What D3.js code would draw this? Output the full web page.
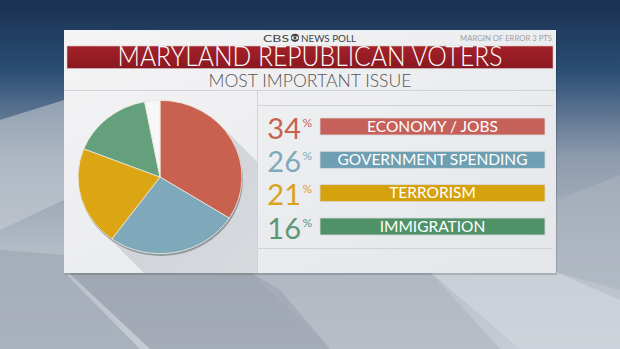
<!DOCTYPE html>
<html><head><meta charset="utf-8">
<script src="https://cdn.jsdelivr.net/npm/d3@7"></script>
<style>html,body{margin:0;padding:0;background:#8a97a8;overflow:hidden}svg{display:block}</style>
</head><body><svg id="c" width="620" height="349"></svg>
<script>
const categories = ["ECONOMY / JOBS", "GOVERNMENT SPENDING", "TERRORISM", "IMMIGRATION"];
const values = [34, 26, 21, 16];
const pieColors = ["#c9614f", "#7ea9ba", "#dca513", "#63a07b"];
const numColors = ["#c9614f", "#7ea9ba", "#d9a21c", "#5e9776"];
const barColors = ["#c5615a", "#6e9fb2", "#d5a10c", "#4f9268"];
const otherValue = 100 - d3.sum(values);
const title = "MARYLAND REPUBLICAN VOTERS";
const subtitle = "MOST IMPORTANT ISSUE";

const svg = d3.select("#c");
const W = 620, H = 349;
const FONT = "Lato, 'Open Sans', sans-serif";
const defs = svg.append("defs");

// background
const bg = defs.append("linearGradient").attr("id","bg").attr("x1",0).attr("y1",0).attr("x2",0).attr("y2",1);
bg.append("stop").attr("offset","0").attr("stop-color","#1a3150");
bg.append("stop").attr("offset","0.2").attr("stop-color","#2b4d74");
bg.append("stop").attr("offset","0.45").attr("stop-color","#8d9bad");
bg.append("stop").attr("offset","0.75").attr("stop-color","#b8bfc8");
bg.append("stop").attr("offset","1").attr("stop-color","#c6ccd4");
svg.append("rect").attr("width",W).attr("height",H).attr("fill","url(#bg)");
const shapes = [
  {pts:[[0,120],[64,100],[64,200],[0,230]], c:"#c9ced6", o:0.55},
  {pts:[[0,250],[64,255],[64,272],[140,349],[0,349]], c:"#9ea6b4", o:0.7},
  {pts:[[68,272],[150,349],[330,349],[280,290],[250,272]], c:"#8e96a3", o:0.6},
  {pts:[[556,200],[620,175],[620,290],[556,272]], c:"#aab3be", o:0.6},
  {pts:[[430,272],[520,349],[620,349],[620,300],[556,272]], c:"#d3d9e0", o:0.6},
  {pts:[[250,272],[430,272],[500,349],[330,349]], c:"#a9b0ba", o:0.5}
];
svg.append("g").selectAll("path").data(shapes).join("path")
  .attr("d", d => d3.line()(d.pts) + "Z").attr("fill", d => d.c).attr("opacity", d => d.o);

// panel
const panel = {x:64, y:30, w:492, h:243};
svg.append("rect").attr("x",panel.x+1).attr("y",panel.y+2).attr("width",panel.w).attr("height",panel.h).attr("fill","#000").attr("opacity",0.15);
const pg = defs.append("linearGradient").attr("id","pg").attr("x1",0).attr("y1",0).attr("x2",1).attr("y2",1);
pg.append("stop").attr("offset","0").attr("stop-color","#f4f4f5");
pg.append("stop").attr("offset","1").attr("stop-color","#e4e6ea");
svg.append("rect").attr("x",panel.x).attr("y",panel.y).attr("width",panel.w).attr("height",panel.h).attr("fill","url(#pg)");

// header
const hdr = svg.append("g");
hdr.append("text").attr("x",263).attr("y",41.5).attr("font-family",FONT).attr("font-size",10)
  .attr("textLength",26).attr("lengthAdjust","spacingAndGlyphs").attr("fill","#444").text("CBS");
hdr.append("circle").attr("cx",295).attr("cy",37.8).attr("r",4.1).attr("fill","#444");
hdr.append("ellipse").attr("cx",295).attr("cy",37.8).attr("rx",3.4).attr("ry",1.9).attr("fill","#f2f2f2");
hdr.append("circle").attr("cx",295).attr("cy",37.8).attr("r",1.5).attr("fill","#444");
hdr.append("text").attr("x",301).attr("y",41.5).attr("font-family",FONT).attr("font-size",10)
  .attr("textLength",55).attr("lengthAdjust","spacingAndGlyphs").attr("fill","#444").text("NEWS POLL");
hdr.append("text").attr("x",460).attr("y",40.5).attr("font-family",FONT).attr("font-size",6.8)
  .attr("textLength",92).attr("lengthAdjust","spacingAndGlyphs").attr("fill","#a0a0a0").text("MARGIN OF ERROR 3 PTS");

const tg = defs.append("linearGradient").attr("id","tg").attr("x1",0).attr("y1",0).attr("x2",0).attr("y2",1);
tg.append("stop").attr("offset","0").attr("stop-color","#a42129");
tg.append("stop").attr("offset","1").attr("stop-color","#8a1820");
svg.append("rect").attr("x",67).attr("y",46).attr("width",486).attr("height",22.5).attr("fill","url(#tg)").attr("stroke","#d8c8c8").attr("stroke-width",0.6);
svg.append("text").attr("x",310).attr("y",66.3).attr("text-anchor","middle").attr("font-family",FONT).attr("font-weight",300)
  .attr("font-size",26.5).attr("fill","#fff").attr("textLength",385).attr("lengthAdjust","spacingAndGlyphs").text(title);
svg.append("text").attr("x",310).attr("y",87).attr("text-anchor","middle").attr("font-family",FONT).attr("font-weight",300)
  .attr("font-size",18).attr("fill","#555").attr("textLength",203).attr("lengthAdjust","spacingAndGlyphs").text(subtitle);

// divider lines
const ln = svg.append("g").attr("stroke","#cfd2d6").attr("stroke-width",1);
ln.append("line").attr("x1",64).attr("x2",556).attr("y1",90.5).attr("y2",90.5);
ln.append("line").attr("x1",257.5).attr("x2",257.5).attr("y1",90).attr("y2",273);
ln.append("line").attr("x1",257).attr("x2",553).attr("y1",105.5).attr("y2",105.5);
ln.append("line").attr("x1",257).attr("x2",553).attr("y1",248.5).attr("y2",248.5);

// pie
const cx = 160, cy = 177, r = 82, sy = 0.935;
const clip = defs.append("clipPath").attr("id","lp");
clip.append("rect").attr("x",64).attr("y",91).attr("width",193).attr("height",182);
const sg = defs.append("linearGradient").attr("id","sg").attr("x1",0).attr("y1",0).attr("x2",1).attr("y2",1);
sg.append("stop").attr("offset","0").attr("stop-color","#b8bcc2").attr("stop-opacity",0.7);
sg.append("stop").attr("offset","1").attr("stop-color","#c8ccd2").attr("stop-opacity",0.1);
const k = r/Math.SQRT2, L = 220;
svg.append("path").attr("clip-path","url(#lp)").attr("fill","url(#sg)")
  .attr("d", d3.line()([[cx+k, cy-k*sy],[cx+k+L, cy-k*sy+L],[cx-k+L, cy+k*sy+L],[cx-k, cy+k*sy]])+"Z");

const pieG = svg.append("g").attr("transform",`translate(${cx},${cy}) scale(1,${sy})`);
pieG.append("circle").attr("cx",1).attr("cy",2.5).attr("r",r).attr("fill","#8f9aa2");
const pieData = d3.pie().sort(null).value(d => d.v)(values.map((v,i)=>({v, c:pieColors[i]})).concat([{v:otherValue, c:"#f7f7f7"}]));
const arc = d3.arc().innerRadius(0).outerRadius(r);
pieG.selectAll("path.s").data(pieData).join("path").attr("class","s")
  .attr("d", arc).attr("fill", d => d.data.c).attr("stroke","#efe6dc").attr("stroke-width",0.9);

// rows
const y = d3.scaleBand().domain(categories).range([118, 235]).paddingInner(0.49).paddingOuter(0);
const x = d3.scaleLinear().domain([0,1]).range([320, 545]);
const rows = svg.append("g").selectAll("g").data(categories).join("g");
rows.append("rect").attr("x",x(0)).attr("width",x(1)-x(0)).attr("y",d=>y(d)).attr("height",y.bandwidth())
  .attr("fill",(d,i)=>barColors[i]).attr("stroke","#d9dadd").attr("stroke-width",0.8);
rows.append("text").attr("x",(x(0)+x(1))/2).attr("y",d=>y(d)+y.bandwidth()/2+5.3).attr("text-anchor","middle")
  .attr("font-family",FONT).attr("font-weight",400).attr("font-size",15.5).attr("fill","#fff").text(d=>d);
rows.append("text").attr("x",301).attr("y",d=>y(d)+y.bandwidth()+3.5).attr("text-anchor","end")
  .attr("font-family",FONT).attr("font-weight",400).attr("font-size",29).attr("fill",(d,i)=>numColors[i]).text((d,i)=>values[i]);
rows.append("text").attr("x",302.5).attr("y",d=>y(d)+8.5).attr("font-family",FONT).attr("font-size",12).attr("fill",(d,i)=>numColors[i]).text("%");
</script></body></html>
